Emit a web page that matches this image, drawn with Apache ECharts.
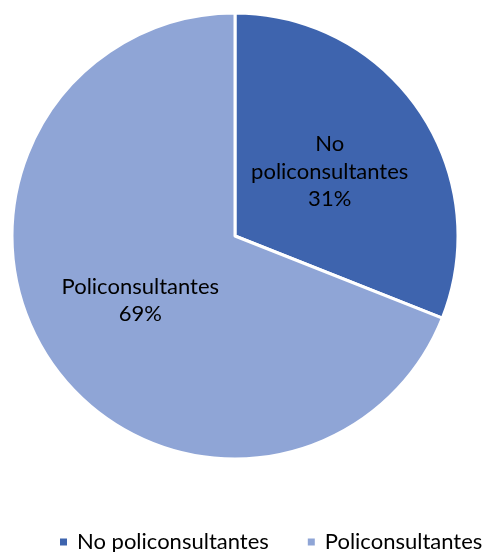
<!DOCTYPE html>
<html>
<head>
<meta charset="utf-8">
<script src="https://cdn.jsdelivr.net/npm/echarts@6/dist/echarts.min.js"></script>
<style>html,body{margin:0;padding:0;background:#fff;}#c{width:483px;height:552px;}</style>
</head>
<body>
<div id="c"></div>
<script>
const categories = ["No policonsultantes", "Policonsultantes"];
const values = [31, 69];
const colors = ["#3E64AE", "#8FA5D6"];

const chart = echarts.init(document.getElementById('c'), null, {renderer: 'canvas'});
const FONT = "Lato, 'Open Sans', sans-serif";
chart.setOption({
  animation: false,
  color: colors,
  legend: {
    top: 531,
    left: 58,
    right: 0,
    padding: 0,
    icon: 'rect',
    itemWidth: 9,
    itemHeight: 9,
    itemGap: 37,
    textStyle: {fontFamily: FONT, fontSize: 22, color: '#000', padding: [0, 0, 0, 4]},
    data: categories
  },
  series: [{
    type: 'pie',
    center: [235, 236],
    radius: [0, 223],
    startAngle: 90,
    clockwise: true,
    itemStyle: {borderColor: '#fff', borderWidth: 3},
    label: {
      show: true,
      position: 'inside',
      fontFamily: FONT,
      fontSize: 22,
      lineHeight: 27.5,
      color: '#000',
      formatter: function (p) {
        const name = p.name === 'No policonsultantes' ? 'No\npoliconsultantes' : p.name;
        return name + '\n' + Math.round(p.percent) + '%';
      }
    },
    labelLine: {show: false},
    emphasis: {disabled: true},
    data: categories.map((n, i) => ({name: n, value: values[i]}))
  }]
});
</script>
</body>
</html>
